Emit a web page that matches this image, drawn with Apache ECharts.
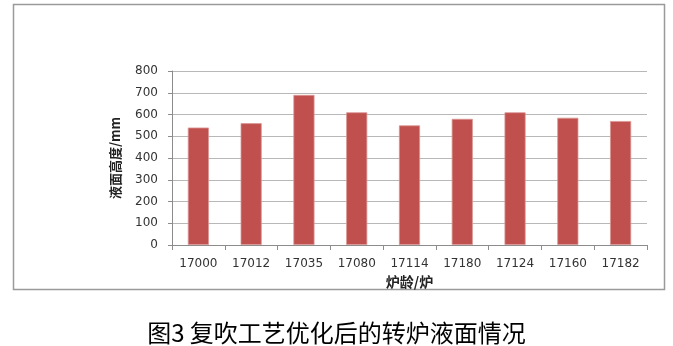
<!DOCTYPE html>
<html>
<head>
<meta charset="utf-8">
<script src="https://cdn.jsdelivr.net/npm/echarts@6/dist/echarts.min.js"></script>
<style>
html,body{margin:0;padding:0;background:#fff;}
#c{width:673px;height:346px;}
</style>
</head>
<body>
<div id="c"></div>
<script>
var categories = ['17000','17012','17035','17080','17114','17180','17124','17160','17182'];
var levels = [540, 560, 690, 610, 550, 580, 610, 585, 570];
var yTicks = [0, 100, 200, 300, 400, 500, 600, 700, 800];
var xName = '炉龄/炉';
var yName = '液面高度/mm';
var caption = '图3 复吹工艺优化后的转炉液面情况';

var chart = echarts.init(document.getElementById('c'), null, {renderer:'canvas'});
chart.setOption({
  animation: false,
  backgroundColor: '#fff',
  title: {
    text: caption,
    left: 'center',
    top: 316,
    textStyle: {fontFamily: '"Noto Sans CJK SC", serif', fontSize: 24, fontWeight: 'normal', color: '#000'}
  },
  graphic: [{
    type: 'rect',
    shape: {x: 13.5, y: 4.5, width: 651, height: 285},
    style: {fill: 'none', stroke: '#9a9a9a', lineWidth: 1.5},
    silent: true
  }],
  grid: {left: 172, right: 26, top: 71, bottom: 101, containLabel: false},
  xAxis: {
    type: 'category',
    data: categories,
    name: xName,
    nameLocation: 'middle',
    nameGap: 28,
    nameTextStyle: {fontFamily: '"Noto Sans CJK SC"', fontSize: 14, fontWeight: 'bold', color: '#222'},
    axisLine: {lineStyle: {color: '#8c8c8c', width: 1}},
    axisTick: {show: true, length: 5, lineStyle: {color: '#8c8c8c'}},
    axisLabel: {margin: 13, fontFamily: 'DejaVu Sans', fontSize: 12, color: '#333'}
  },
  yAxis: {
    type: 'value',
    min: 0, max: 800, interval: 100,
    name: yName,
    nameLocation: 'middle',
    nameGap: 50,
    nameTextStyle: {fontFamily: '"Noto Sans CJK SC"', fontSize: 13, fontWeight: 'bold', color: '#222'},
    axisLine: {show: true, lineStyle: {color: '#8c8c8c', width: 1}},
    axisTick: {show: true, length: 4, lineStyle: {color: '#8c8c8c'}},
    axisLabel: {margin: 14, fontFamily: 'DejaVu Sans', fontSize: 12, color: '#333',
      formatter: function(v){ return yTicks.indexOf(v) >= 0 ? String(v) : ''; }},
    splitLine: {lineStyle: {color: '#b8b8b8', width: 1}}
  },
  series: [{
    type: 'bar',
    data: levels,
    barWidth: '40%',
    itemStyle: {color: '#C0504D', borderColor: '#D99694', borderWidth: 0.8}
  }]
});
</script>
</body>
</html>
